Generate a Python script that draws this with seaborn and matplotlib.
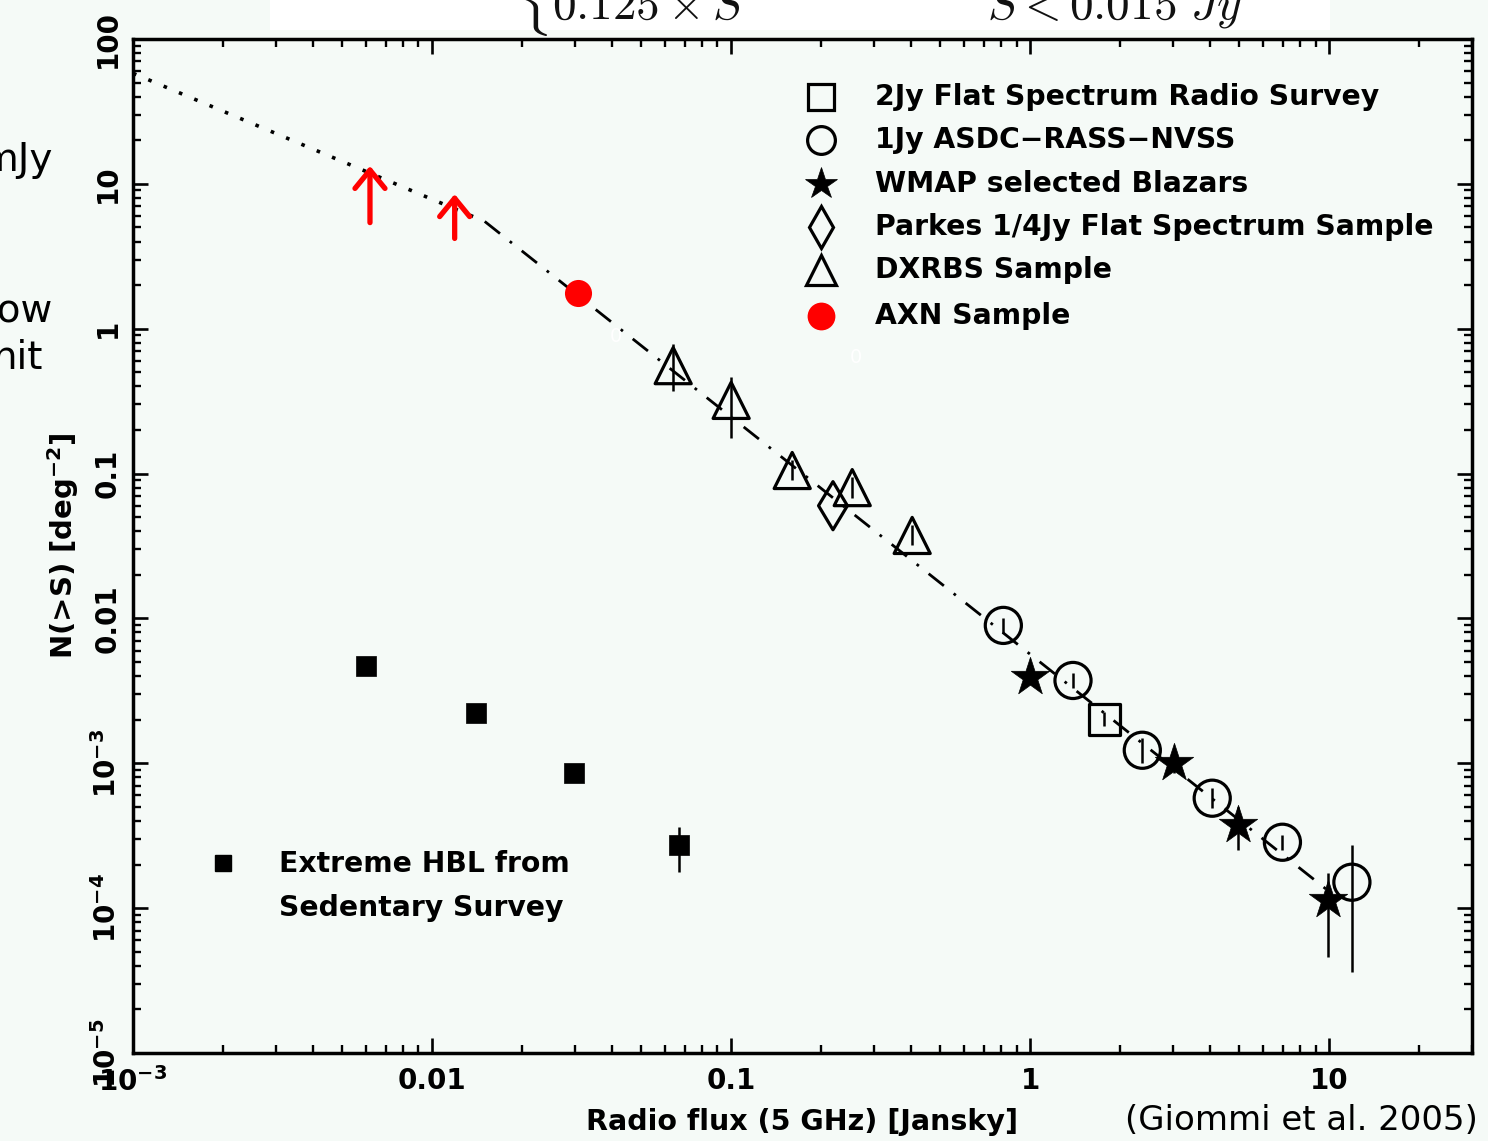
import numpy as np
import pandas as pd
import matplotlib
matplotlib.use("Agg")
import matplotlib.pyplot as plt
from matplotlib.patches import Rectangle
from matplotlib.ticker import FixedLocator, FixedFormatter, LogLocator, NullFormatter
import seaborn as sns

# ---------------------------------------------------------------- data
# broken power-law model, vertices of the log N - log S relation
model_flux = [1e-3, 0.015, 10.0]
model_counts = [58.0, 5.5, 1.3e-4]

# AXN sample: lower limits and measured point
axn_limit_flux = [0.0062, 0.0119]
axn_limit_low = [5.4, 4.2]
axn_limit_high = [13.3, 8.5]
axn_flux = [0.0308]
axn_counts = [1.77]

# DXRBS sample
dxrbs_flux = [0.064, 0.100, 0.160, 0.254, 0.403]
dxrbs_counts = [0.556, 0.320, 0.105, 0.080, 0.0374]
dxrbs_lo = [0.373, 0.177, 0.090, 0.068, 0.032]
dxrbs_hi = [0.790, 0.467, 0.125, 0.095, 0.044]

# Parkes 1/4 Jy flat spectrum sample
parkes_flux = [0.219]
parkes_counts = [0.060]

# 1 Jy ASDC-RASS-NVSS
asdc_flux = [0.813, 1.39, 2.37, 4.06, 6.97, 11.9]
asdc_counts = [8.95e-3, 3.73e-3, 1.23e-3, 5.74e-4, 2.85e-4, 1.51e-4]
asdc_lo = [7.9e-3, 3.3e-3, 1.01e-3, 4.9e-4, 2.5e-4, 3.62e-5]
asdc_hi = [1.00e-2, 4.2e-3, 1.50e-3, 6.7e-4, 3.2e-4, 2.72e-4]

# 2 Jy flat spectrum radio survey
fsrs_flux = [1.77]
fsrs_counts = [2.01e-3]
fsrs_lo = [1.8e-3]
fsrs_hi = [2.25e-3]

# WMAP selected blazars
wmap_flux = [1.0, 3.03, 4.97, 9.9]
wmap_counts = [3.92e-3, 1.0e-3, 3.73e-4, 1.13e-4]
wmap_lo = [3.6e-3, 8.6e-4, 2.5e-4, 4.6e-5]
wmap_hi = [4.3e-3, 1.15e-3, 5.0e-4, 1.74e-4]

# extreme HBL from the Sedentary survey
hbl_flux = [0.0060, 0.0140, 0.0299, 0.067]
hbl_counts = [4.67e-3, 2.21e-3, 8.53e-4, 2.72e-4]
hbl_lo = [4.67e-3, 2.21e-3, 8.53e-4, 1.77e-4]
hbl_hi = [4.67e-3, 2.21e-3, 8.53e-4, 3.62e-4]

survey_names = ["2Jy Flat Spectrum Radio Survey", "1Jy ASDC\u2212RASS\u2212NVSS",
                "WMAP selected Blazars", "Parkes 1/4Jy Flat Spectrum Sample",
                "DXRBS Sample", "AXN Sample"]
hbl_name = ["Extreme HBL from", "Sedentary Survey"]

x_ticks = [1e-3, 1e-2, 1e-1, 1, 10]
x_ticklabels = [r"$\mathbf{10^{-3}}$", "0.01", "0.1", "1", "10"]
y_ticks = [1e-5, 1e-4, 1e-3, 1e-2, 1e-1, 1, 10, 100]
y_ticklabels = [r"$\mathbf{10^{-5}}$", r"$\mathbf{10^{-4}}$", r"$\mathbf{10^{-3}}$",
                "0.01", "0.1", "1", "10", "100"]

# ---------------------------------------------------------------- style
BG = "#f5faf7"
sns.set_style("ticks")
plt.rcParams["font.family"] = ["DejaVu Sans"]
plt.rcParams["mathtext.fontset"] = "dejavusans"
for key in ("text.color", "axes.labelcolor", "xtick.color", "ytick.color", "axes.edgecolor"):
    plt.rcParams[key] = "black"

fig = plt.figure(figsize=(14.88, 11.41), dpi=100, facecolor=BG)
ax = fig.add_axes([0.08938, 0.07713, 0.89987, 0.88869])
ax.set_facecolor(BG)
ax.set_xscale("log")
ax.set_yscale("log")
ax.set_xlim(1e-3, 30)
ax.set_ylim(1e-5, 100)

# model line: dotted below the break, dash-dot above
seg1 = pd.DataFrame({"S": model_flux[:2], "N": model_counts[:2]})
seg2 = pd.DataFrame({"S": model_flux[1:], "N": model_counts[1:]})
sns.lineplot(data=seg1, x="S", y="N", ax=ax, color="black", lw=2.6,
             linestyle=(0, (1, 3.6)), zorder=2)
sns.lineplot(data=seg2, x="S", y="N", ax=ax, color="black", lw=2.0,
             linestyle=(0, (7, 4.5, 1, 4.5)), zorder=2)

err_kw = dict(fmt="none", ecolor="black", elinewidth=1.8, capsize=0, zorder=3)


def errbars(xs, ys, lo, hi):
    ys = np.asarray(ys)
    yerr = [ys - np.asarray(lo), np.asarray(hi) - ys]
    ax.errorbar(xs, ys, yerr=yerr, **err_kw)


errbars(dxrbs_flux, dxrbs_counts, dxrbs_lo, dxrbs_hi)
errbars(asdc_flux, asdc_counts, asdc_lo, asdc_hi)
errbars(fsrs_flux, fsrs_counts, fsrs_lo, fsrs_hi)
errbars(wmap_flux, wmap_counts, wmap_lo, wmap_hi)
errbars(hbl_flux, hbl_counts, hbl_lo, hbl_hi)

open_kw = dict(facecolor="none", edgecolor="black", linewidth=2.3, zorder=4, legend=False)
sns.scatterplot(x=dxrbs_flux, y=dxrbs_counts, marker="^", s=26 ** 2, ax=ax, **open_kw)
sns.scatterplot(x=parkes_flux, y=parkes_counts, marker="d", s=24.5 ** 2, ax=ax, **open_kw)
sns.scatterplot(x=asdc_flux, y=asdc_counts, marker="o", s=26 ** 2, ax=ax, **open_kw)
sns.scatterplot(x=fsrs_flux, y=fsrs_counts, marker="s", s=22 ** 2, ax=ax, **open_kw)
sns.scatterplot(x=wmap_flux, y=wmap_counts, marker="*", s=29 ** 2, ax=ax,
                color="black", edgecolor="black", linewidth=0.5, zorder=5, legend=False)
sns.scatterplot(x=hbl_flux, y=hbl_counts, marker="s", s=14 ** 2, ax=ax,
                color="black", edgecolor="black", linewidth=0.5, zorder=5, legend=False)
sns.scatterplot(x=axn_flux, y=axn_counts, marker="o", s=19.5 ** 2, ax=ax,
                color="red", edgecolor="red", linewidth=0, zorder=5, legend=False)

# AXN lower limits
for s, lo, hi in zip(axn_limit_flux, axn_limit_low, axn_limit_high):
    ax.annotate("", xy=(s, hi), xytext=(s, lo),
                arrowprops=dict(arrowstyle="->,head_length=0.55,head_width=0.45",
                                color="red", lw=3.8, mutation_scale=24,
                                shrinkA=0, shrinkB=0), zorder=6)

# small white glyphs over the line
ax.text(0.0413, 0.89, "0", color="white", fontsize=14, ha="center", va="center", zorder=7)
ax.text(0.262, 0.63, "0", color="white", fontsize=14, ha="center", va="center", zorder=7)

# ---------------------------------------------------------------- axes
for sp in ax.spines.values():
    sp.set_linewidth(2.5)
    sp.set_color("black")
    sp.set_visible(True)

ax.xaxis.set_major_locator(FixedLocator(x_ticks))
ax.xaxis.set_major_formatter(FixedFormatter(x_ticklabels))
ax.yaxis.set_major_locator(FixedLocator(y_ticks))
ax.yaxis.set_major_formatter(FixedFormatter(y_ticklabels))
ax.xaxis.set_minor_locator(LogLocator(base=10, subs=np.arange(2, 10), numticks=20))
ax.yaxis.set_minor_locator(LogLocator(base=10, subs=np.arange(2, 10), numticks=20))
ax.xaxis.set_minor_formatter(NullFormatter())
ax.yaxis.set_minor_formatter(NullFormatter())

ax.tick_params(which="both", direction="in", top=True, right=True, color="black")
ax.tick_params(which="major", length=11, width=1.9, labelsize=20)
ax.tick_params(which="minor", length=6, width=1.7)
ax.tick_params(axis="x", which="major", pad=10)
ax.tick_params(axis="y", which="major", pad=8, labelrotation=90)
plt.setp(ax.get_yticklabels(), va="center", ha="right", fontweight="bold")
plt.setp(ax.get_xticklabels(), fontweight="bold")

ax.set_xlabel("Radio flux (5 GHz) [Jansky]", fontsize=20.5, fontweight="bold", labelpad=8)
ax.set_ylabel(r"N(>S) [deg$^{\mathbf{-2}}$]", fontsize=21, fontweight="bold", labelpad=8)

# ---------------------------------------------------------------- legends
W, H = 1339.0, 1014.0


def axpos(px, py):
    return (px - 133) / W, (1053 - py) / H


leg_marks = [
    dict(marker="s", ms=19, mfc="none", mec="black", mew=2.3),
    dict(marker="o", ms=20, mfc="none", mec="black", mew=2.3),
    dict(marker="*", ms=24, mfc="black", mec="black", mew=0.5),
    dict(marker="d", ms=21, mfc="none", mec="black", mew=2.3),
    dict(marker="^", ms=22, mfc="none", mec="black", mew=2.3),
    dict(marker="o", ms=20, mfc="red", mec="red", mew=0),
]
leg_rows = [97, 140, 184, 227, 270, 316]
for name, mk, py in zip(survey_names, leg_marks, leg_rows):
    mx, my = axpos(821, py)
    ax.plot([mx], [my], transform=ax.transAxes, clip_on=False, ls="none", zorder=6, **mk)
    tx, ty = axpos(875, py)
    ax.text(tx, ty, name, transform=ax.transAxes, fontsize=20.3, fontweight="bold",
            ha="left", va="center", zorder=6)

mx, my = axpos(223, 863)
ax.plot([mx], [my], transform=ax.transAxes, ls="none", marker="s", ms=12,
        mfc="black", mec="black", zorder=6)
for line, py in zip(hbl_name, [864, 908]):
    tx, ty = axpos(279, py)
    ax.text(tx, ty, line, transform=ax.transAxes, fontsize=20.3, fontweight="bold",
            ha="left", va="center", zorder=6)

# ---------------------------------------------------------------- figure texts
fig.add_artist(Rectangle((270 / 1488, 1 - 30 / 1141), (1330 - 270) / 1488, 30 / 1141,
                         transform=fig.transFigure, facecolor="white",
                         edgecolor="none", zorder=0))
fig.text(517 / 1488, 1 - 22 / 1141, r"$\{$", fontsize=44, math_fontfamily="cm",
         ha="left", va="baseline", color="#111111")
fig.text(552 / 1488, 1 - 19 / 1141, r"$\mathrm{0.125}\times\mathit{S}$", fontsize=34,
         math_fontfamily="cm", ha="left", va="baseline", color="#111111")
fig.text(987 / 1488, 1 - 19 / 1141, r"$\mathit{S}<\mathrm{0.015}\ \mathit{Jy}$",
         fontsize=34, math_fontfamily="cm", ha="left", va="baseline", color="#111111")

fig.text(53 / 1488, 1 - 160 / 1141, "mJy", fontsize=28, ha="right", va="center")
fig.text(53 / 1488, 1 - 310 / 1141, "low", fontsize=28, ha="right", va="center")
fig.text(43 / 1488, 1 - 358 / 1141, "nit", fontsize=28, ha="right", va="center")
fig.text(1478 / 1488, 1 - 1120 / 1141, "(Giommi et al. 2005)", fontsize=24.5,
         ha="right", va="center")

fig.savefig("out.png", dpi=100, facecolor=BG)
